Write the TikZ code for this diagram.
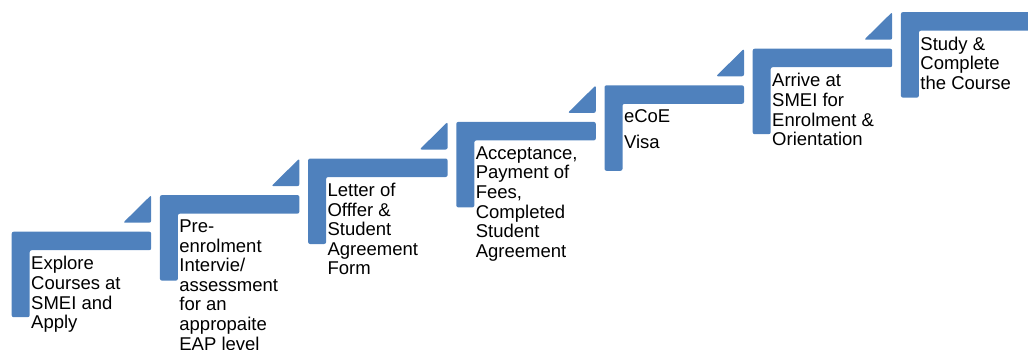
\documentclass[tikz,border=0pt]{standalone}
\usepackage{fontspec}
\setmainfont{Liberation Sans}
\definecolor{barblue}{HTML}{4F81BD}
\tikzset{
  stepbar/.style={fill=barblue, draw=none, rounded corners=2pt},
  steptext/.style={anchor=north west, inner sep=0pt, align=left,
    font=\fontsize{18.5}{19.6}\selectfont, text=black},
}
\newcommand{\stepL}[2]{%
  \fill[stepbar] (#1,#2) -- ++(139.5,0) -- ++(0,18.5) -- ++(-121.5,0)
    -- ++(0,67) -- ++(-18,0) -- cycle;}
\newcommand{\stepT}[2]{%
  \fill[stepbar] (#1+139.5,#2-36.6) -- (#1+139.5,#2-9) -- (#1+111.5,#2-9) -- cycle;}
\begin{document}
\begin{tikzpicture}[x=1pt,y=-1pt]
\useasboundingbox (0,0) rectangle (1028,349);
\clip (0,0) rectangle (1028,349);
% bars
\stepL{11.7}{231.7}
\stepL{159.9}{195.1}
\stepL{308.1}{158.5}
\stepL{456.3}{121.9}
\stepL{604.5}{85.3}
\stepL{752.7}{48.7}
\stepL{900.9}{12.1}
% triangles
\stepT{11.7}{231.7}
\stepT{159.9}{195.1}
\stepT{308.1}{158.5}
\stepT{456.3}{121.9}
\stepT{604.5}{85.3}
\stepT{752.7}{48.7}
% texts
\node[steptext] (t1) at (31.0,256.2) {Explore\\Courses at\\SMEI and\\Apply};
\node[steptext] (t2) at (179.2,219.6) {Pre-\\enrolment\\Intervie/\\assessment\\for an\\appropaite\\EAP level};
\node[steptext] (t3) at (327.4,183.0) {Letter of\\Offfer \&\\Student\\Agreement\\Form};
\node[steptext] (t4) at (475.6,146.4) {Acceptance,\\Payment of\\Fees,\\Completed\\Student\\Agreement};
\node[steptext] (t5) at (623.8,109.8) {eCoE\\[6.4pt]Visa};
\node[steptext] (t6) at (772.0,73.2) {Arrive at\\SMEI for\\Enrolment \&\\Orientation};
\node[steptext] (t7) at (920.2,36.6) {Study \&\\Complete\\the Course};
\end{tikzpicture}
\end{document}
